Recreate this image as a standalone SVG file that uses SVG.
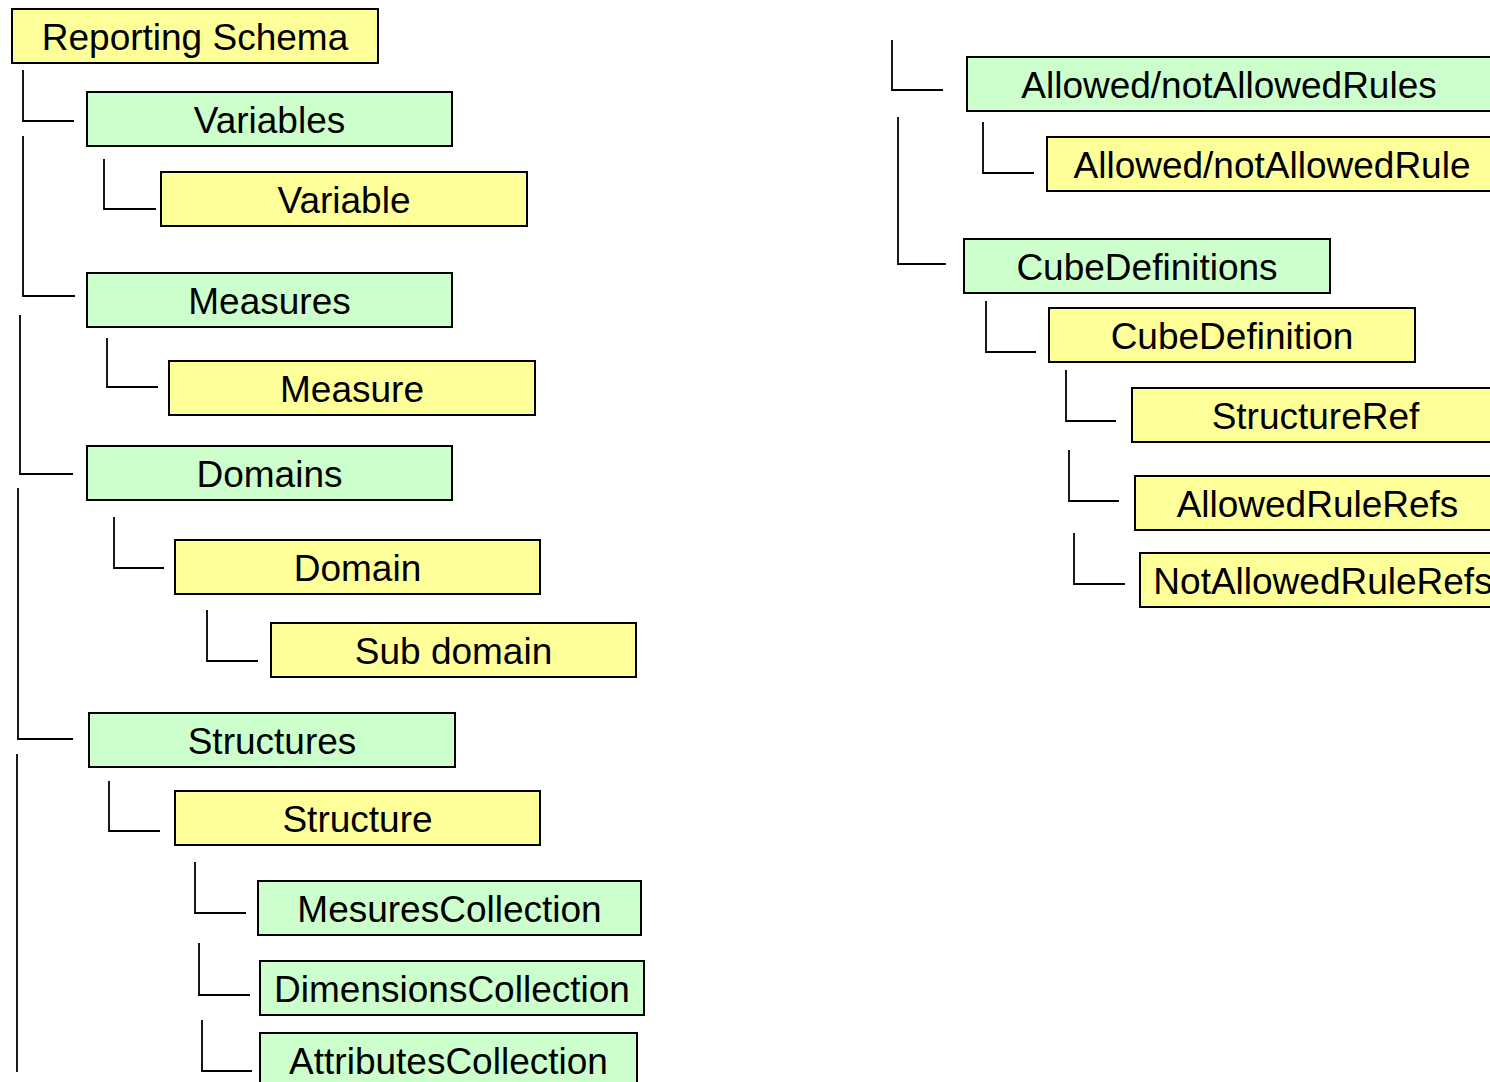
<svg xmlns="http://www.w3.org/2000/svg" width="1490" height="1082" viewBox="0 0 1490 1082">
<style>
.y{fill:#FFFF99;stroke:#000;stroke-width:2}
.g{fill:#CCFFCC;stroke:#000;stroke-width:2}
.t{font-family:"Liberation Sans",Arial,sans-serif;font-size:37px;fill:#000;text-anchor:middle}
.c{fill:none;stroke:#000;stroke-width:1.8}
</style>
<rect width="1490" height="1082" fill="#fff"/>
<g id="connectors">
<path class="c" d="M23 70 V121 H74"/>
<path class="c" d="M23 136 V296 H75"/>
<path class="c" d="M104 159 V209 H156"/>
<path class="c" d="M20 315 V474 H73"/>
<path class="c" d="M107 338 V387 H158"/>
<path class="c" d="M18 488 V739 H73"/>
<path class="c" d="M114 517 V568 H164"/>
<path class="c" d="M207 610 V661 H258"/>
<path class="c" d="M17 754 V1072"/>
<path class="c" d="M109 781 V831 H160"/>
<path class="c" d="M195 862 V913 H246"/>
<path class="c" d="M199 943 V995 H250"/>
<path class="c" d="M202 1020 V1071 H252"/>
<path class="c" d="M892 40 V90 H943"/>
<path class="c" d="M898 117 V264 H946"/>
<path class="c" d="M983 122 V173 H1034"/>
<path class="c" d="M986 301 V352 H1036"/>
<path class="c" d="M1066 370 V421 H1116"/>
<path class="c" d="M1069 450 V501 H1119"/>
<path class="c" d="M1074 533 V584 H1125"/>
</g>
<g id="reporting-schema"><rect class="y" x="12" y="9" width="366" height="54"/><text class="t" x="195" y="50">Reporting Schema</text></g>
<g id="variables"><rect class="g" x="87" y="92" width="365" height="54"/><text class="t" x="269.5" y="133">Variables</text></g>
<g id="variable"><rect class="y" x="161" y="172" width="366" height="54"/><text class="t" x="344" y="213">Variable</text></g>
<g id="measures"><rect class="g" x="87" y="273" width="365" height="54"/><text class="t" x="269.5" y="314">Measures</text></g>
<g id="measure"><rect class="y" x="169" y="361" width="366" height="54"/><text class="t" x="352" y="402">Measure</text></g>
<g id="domains"><rect class="g" x="87" y="446" width="365" height="54"/><text class="t" x="269.5" y="487">Domains</text></g>
<g id="domain"><rect class="y" x="175" y="540" width="365" height="54"/><text class="t" x="357.5" y="581">Domain</text></g>
<g id="sub-domain"><rect class="y" x="271" y="623" width="365" height="54"/><text class="t" x="453.5" y="664">Sub domain</text></g>
<g id="structures"><rect class="g" x="89" y="713" width="366" height="54"/><text class="t" x="272" y="754">Structures</text></g>
<g id="structure"><rect class="y" x="175" y="791" width="365" height="54"/><text class="t" x="357.5" y="832">Structure</text></g>
<g id="mesures-collection"><rect class="g" x="258" y="881" width="383" height="54"/><text class="t" x="449.5" y="922">MesuresCollection</text></g>
<g id="dimensions-collection"><rect class="g" x="260" y="961" width="384" height="54"/><text class="t" x="452" y="1002">DimensionsCollection</text></g>
<g id="attributes-collection"><rect class="g" x="260" y="1033" width="377" height="60"/><text class="t" x="448.5" y="1074">AttributesCollection</text></g>
<g id="allowed-rules"><rect class="g" x="967" y="57" width="526" height="54"/><text class="t" x="1229" y="98">Allowed/notAllowedRules</text></g>
<g id="allowed-rule"><rect class="y" x="1047" y="137" width="450" height="54"/><text class="t" x="1272" y="178">Allowed/notAllowedRule</text></g>
<g id="cube-definitions"><rect class="g" x="964" y="239" width="366" height="54"/><text class="t" x="1147" y="280">CubeDefinitions</text></g>
<g id="cube-definition"><rect class="y" x="1049" y="308" width="366" height="54"/><text class="t" x="1232" y="349">CubeDefinition</text></g>
<g id="structure-ref"><rect class="y" x="1132" y="388" width="367" height="54"/><text class="t" x="1315.5" y="429">StructureRef</text></g>
<g id="allowed-rule-refs"><rect class="y" x="1135" y="476" width="365" height="54"/><text class="t" x="1317.5" y="517">AllowedRuleRefs</text></g>
<g id="not-allowed-rule-refs"><rect class="y" x="1140" y="553" width="366" height="54"/><text class="t" x="1323" y="594">NotAllowedRuleRefs</text></g>
</svg>
